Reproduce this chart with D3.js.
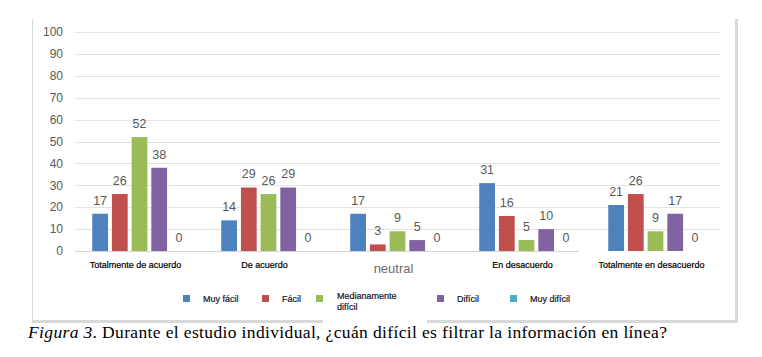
<!DOCTYPE html>
<html lang="es">
<head>
<meta charset="UTF-8">
<title>Figura 3</title>
<script src="https://d3js.org/d3.v7.min.js"></script>
<style>
  body { margin: 0; background: #fff; }
  svg text { font-family: "Liberation Sans", Arial, sans-serif; }
</style>
</head>
<body>
<script>
  // datos
  const categories = ["Totalmente de acuerdo", "De acuerdo", "neutral", "En desacuerdo", "Totalmente en desacuerdo"];
  const seriesNames = ["Muy fácil", "Fácil", "Medianamente difícil", "Difícil", "Muy difícil"];
  const muyFacil    = [17, 14, 17, 31, 21];
  const facil       = [26, 29, 3, 16, 26];
  const medianamente = [52, 26, 9, 5, 9];
  const dificil     = [38, 29, 5, 10, 17];
  const muyDificil  = [0, 0, 0, 0, 0];
  const yTicks = [0, 10, 20, 30, 40, 50, 60, 70, 80, 90, 100];
  const colors = ["#4F81BD", "#C0504D", "#9BBB59", "#8064A2", "#4BACC6"];

  const seriesValues = [muyFacil, facil, medianamente, dificil, muyDificil];

  const width = 762, height = 357;
  const svg = d3.select("body").append("svg")
    .attr("width", width).attr("height", height);

  const x0 = d3.scaleBand().domain(categories).range([75, 720]);
  const x1 = d3.scaleBand().domain(seriesNames).range([0, x0.bandwidth()])
    .paddingInner(0.2).paddingOuter(0.875);
  const y = d3.scaleLinear().domain([0, 100]).range([251, 32]);

  // marco
  svg.append("line").attr("x1", 32.5).attr("x2", 32.5).attr("y1", 19).attr("y2", 321)
    .attr("stroke", "#d9d9d9").attr("stroke-width", 1);
  svg.append("line").attr("x1", 736.5).attr("x2", 736.5).attr("y1", 19).attr("y2", 323)
    .attr("stroke", "#d9d9d9").attr("stroke-width", 3);
  svg.append("line").attr("x1", 32).attr("x2", 323).attr("y1", 321.5).attr("y2", 321.5)
    .attr("stroke", "#d9d9d9").attr("stroke-width", 3);
  svg.append("line").attr("x1", 427).attr("x2", 738).attr("y1", 321.5).attr("y2", 321.5)
    .attr("stroke", "#d9d9d9").attr("stroke-width", 3);

  // rejilla
  svg.append("g").selectAll("line")
    .data(yTicks.filter(d => d > 0))
    .enter().append("line")
    .attr("x1", 75).attr("x2", 720)
    .attr("y1", d => Math.round(y(d)) + 0.5).attr("y2", d => Math.round(y(d)) + 0.5)
    .attr("stroke", "#e3e3e3");

  // eje horizontal (solo llega hasta el cuarto grupo en el original)
  svg.append("line")
    .attr("x1", 75).attr("x2", x0(categories[3]) + x0.bandwidth() - 12)
    .attr("y1", Math.round(y(0)) + 0.5).attr("y2", Math.round(y(0)) + 0.5)
    .attr("stroke", "#d4d4d4");

  // etiquetas eje y
  svg.append("g").selectAll("text")
    .data(yTicks)
    .enter().append("text")
    .attr("x", 63).attr("y", d => y(d))
    .attr("dy", "0.35em")
    .attr("text-anchor", "end")
    .attr("font-size", 12)
    .attr("fill", "#595959")
    .text(d => d);

  // barras
  const groups = svg.append("g").selectAll("g")
    .data(categories)
    .enter().append("g")
    .attr("transform", d => `translate(${x0(d)},0)`);

  const cells = groups.selectAll("g")
    .data((c, ci) => seriesNames.map((s, si) => ({ s, si, v: seriesValues[si][ci] })))
    .enter().append("g");

  cells.append("rect")
    .attr("x", d => x1(d.s))
    .attr("y", d => y(d.v))
    .attr("width", x1.bandwidth())
    .attr("height", d => y(0) - y(d.v))
    .attr("fill", d => colors[d.si]);

  cells.append("text")
    .attr("x", d => x1(d.s) + x1.bandwidth() / 2)
    .attr("y", d => y(d.v) - 9)
    .attr("text-anchor", "middle")
    .attr("font-size", 12.5)
    .attr("fill", "#595959")
    .text(d => d.v);

  // etiquetas de categoría
  svg.append("g").selectAll("text")
    .data(categories)
    .enter().append("text")
    .attr("x", d => x0(d) + x0.bandwidth() / 2 - 4)
    .attr("y", d => d === "neutral" ? 273 : 268)
    .attr("text-anchor", "middle")
    .attr("font-size", d => d === "neutral" ? 13 : 9)
    .attr("fill", d => d === "neutral" ? "#6b6b6b" : "#000")
    .attr("stroke", d => d === "neutral" ? "none" : "#000")
    .attr("stroke-width", 0.2)
    .text(d => d);

  // leyenda
  const legendX = [183, 262, 316, 437, 510];
  const legend = svg.append("g").selectAll("g")
    .data(seriesNames)
    .enter().append("g")
    .attr("transform", (d, i) => `translate(${legendX[i]},295)`);

  legend.append("rect")
    .attr("width", 7).attr("height", 7)
    .attr("fill", (d, i) => colors[i]);

  legend.append("text")
    .attr("x", (d, i) => i === 2 ? 21 : 20)
    .attr("font-size", 9)
    .attr("fill", "#14142b")
    .attr("stroke", "#14142b")
    .attr("stroke-width", 0.2)
    .each(function(d, i) {
      const t = d3.select(this);
      if (i === 2) {
        t.append("tspan").attr("x", 21).attr("y", 4).text("Medianamente");
        t.append("tspan").attr("x", 21).attr("y", 15).text("difícil");
      } else {
        t.attr("y", 7).text(d);
      }
    });

  // pie de figura
  const cap = svg.append("text")
    .attr("x", 28).attr("y", 338)
    .attr("font-size", 17.5)
    .attr("fill", "#000")
    .attr("textLength", 639)
    .attr("lengthAdjust", "spacing")
    .style("font-family", "'Liberation Serif', 'Times New Roman', serif");
  cap.append("tspan").attr("font-style", "italic").text("Figura 3");
  cap.append("tspan").text(". Durante el estudio individual, ¿cuán difícil es filtrar la información en línea?");
</script>
</body>
</html>
